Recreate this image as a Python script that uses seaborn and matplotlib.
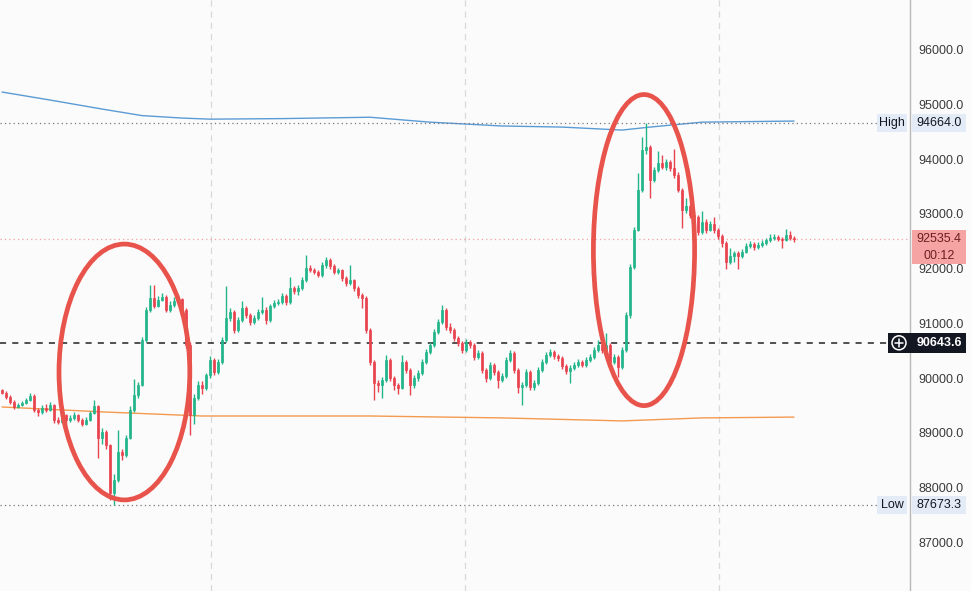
import numpy as np
import pandas as pd
import matplotlib
matplotlib.use("Agg")
import matplotlib.pyplot as plt
import matplotlib.transforms as mtransforms
from matplotlib.patches import Ellipse, Rectangle
from matplotlib.lines import Line2D
import seaborn as sns

# ---------------- data ----------------
first_open = 89780
closes = [
    89725, 89650, 89560, 89470, 89505, 89545, 89600, 89670, 89415, 89380,
    89450, 89415, 89505, 89230, 89195, 89325, 89230, 89270, 89325, 89230,
    89160, 89230, 89360, 89490, 88905, 89010, 88775, 87895, 88135, 88645,
    88590, 88905, 89415, 89690, 89870, 90695, 91245, 91465, 91315, 91425,
    91480, 91245, 91335, 91410, 91445, 91245, 90605, 89325, 89635, 89870,
    89815, 90055, 90330, 90110, 90295, 90695, 91095, 91205, 90880, 91060,
    91280, 91150, 91025, 91095, 91205, 91245, 91060, 91315, 91370, 91390,
    91500, 91390, 91645, 91590, 91645, 91790, 92010, 91975, 91940, 91885,
    92065, 92160, 92050, 91940, 91975, 91830, 91740, 91790, 91645, 91520,
    91465, 90880, 90295, 89910, 89870, 89965, 90330, 90000, 89870, 89815,
    90295, 90145, 89870, 90000, 90090, 90295, 90475, 90605, 90840, 91025,
    91245, 90935, 90880, 90730, 90640, 90510, 90660, 90605, 90385, 90455,
    90145, 90000, 90240, 90110, 89965, 90035, 90330, 90455, 90145, 89835,
    89870, 90110, 89835, 89910, 90145, 90295, 90420, 90475, 90400, 90365,
    90220, 90130, 90185, 90240, 90295, 90240, 90330, 90385, 90510, 90605,
    90510, 90605, 90295, 90385, 90200, 90510, 91150, 92030, 92705, 93440,
    94170, 94225, 93620, 93805, 93930, 93860, 93950, 93840, 93715, 93440,
    93075, 93145, 92980, 92945, 92670, 92855, 92705, 92815, 92705, 92595,
    92470, 92120, 92230, 92285, 92230, 92305, 92415, 92450, 92395, 92435,
    92470, 92525, 92560, 92580, 92545, 92525, 92615, 92560, 92535.4,
]
highs = [
    89800, 89760, 89680, 89590, 89540, 89580, 89640, 89730, 89700, 89450,
    89500, 89520, 89560, 89530, 89280, 89420, 89350, 89320, 89370, 89350,
    89260, 89280, 89400, 89600, 89510, 89090, 89040, 88800, 88250, 89050,
    88700, 88960, 89480, 89980, 89920, 90750, 91300, 91700, 91700, 91500,
    91560, 91510, 91400, 91480, 91520, 91470, 91280, 90650, 89700, 89950,
    89950, 90100, 90400, 90360, 90350, 90750, 91680, 91280, 91250, 91120,
    91400, 91320, 91180, 91150, 91260, 91480, 91290, 91360, 91420, 91440,
    91560, 91530, 91850, 91680, 91700, 91850, 92250, 92060, 92020, 91980,
    92120, 92210, 92200, 92080, 92020, 92000, 91860, 92060, 91820, 91680,
    91560, 91500, 90920, 90330, 89960, 90020, 90420, 90370, 90040, 89910,
    90420, 90330, 90180, 90060, 90150, 90350, 90530, 90660, 90900, 91080,
    91340, 91280, 91000, 90920, 90770, 90680, 90720, 90700, 90640, 90520,
    90490, 90180, 90300, 90280, 90140, 90090, 90380, 90510, 90490, 90180,
    89920, 90170, 90150, 89960, 90200, 90350, 90480, 90530, 90510, 90440,
    90400, 90260, 90240, 90290, 90340, 90330, 90380, 90440, 90560, 90700,
    90640, 90820, 90640, 90440, 90420, 90560, 91200, 92080, 92760, 93750,
    94410, 94664.0, 94260, 93860, 94160, 94080, 94000, 93990, 94180, 93760,
    93480, 93300, 93180, 93060, 92990, 93060, 92900, 92870, 92940, 92740,
    92630, 92500, 92380, 92330, 92320, 92360, 92470, 92500, 92480, 92480,
    92520, 92570, 92640, 92630, 92610, 92580, 92720, 92680, 92600,
]
lows = [
    89700, 89620, 89530, 89430, 89450, 89480, 89520, 89580, 89380, 89300,
    89340, 89380, 89390, 89170, 89150, 89170, 89100, 89200, 89240, 89200,
    89130, 89140, 89210, 89340, 88540, 88800, 88700, 87770, 87673.3, 88100,
    88500, 88560, 88880, 89380, 89640, 89850, 90650, 91200, 91280, 91290,
    91400, 91200, 91200, 91300, 91380, 91200, 90550, 88960, 89150, 89600,
    89700, 89780, 90000, 90050, 90080, 90250, 90650, 91050, 90820, 90850,
    91020, 91100, 90970, 90990, 91060, 91170, 90980, 91030, 91280, 91330,
    91360, 91340, 91360, 91540, 91520, 91610, 91760, 91930, 91900, 91840,
    91850, 92020, 92000, 91900, 91900, 91780, 91680, 91700, 91600, 91470,
    91280, 90820, 90240, 89600, 89750, 89640, 89930, 89940, 89780, 89700,
    89790, 90090, 89690, 89820, 89950, 90060, 90260, 90440, 90570, 90800,
    90990, 90880, 90830, 90680, 90580, 90460, 90480, 90550, 90330, 90350,
    90090, 89930, 89970, 90060, 89820, 89920, 90000, 90300, 90090, 89720,
    89500, 89840, 89780, 89780, 89880, 90110, 90260, 90380, 90350, 90320,
    90170, 90080, 89910, 90150, 90200, 90200, 90200, 90300, 90350, 90470,
    90460, 90480, 90240, 90260, 90020, 90170, 90480, 91100, 92000, 92680,
    93400, 94100, 93300, 93580, 93760, 93820, 93800, 93790, 93660, 93400,
    92740, 93020, 92930, 92880, 92620, 92640, 92650, 92680, 92660, 92540,
    92400, 92000, 92080, 92120, 92000, 92190, 92280, 92380, 92350, 92360,
    92400, 92430, 92490, 92520, 92500, 92380, 92500, 92520, 92480,
]

# moving averages (sampled points: candle index, value)
ma_slow_idx = [0, 12, 25, 35, 45, 52, 70, 92, 107, 125, 140, 155, 162, 175, 198]
ma_slow_val = [95231, 95085, 94920, 94800, 94755, 94735, 94745, 94770, 94680,
               94610, 94590, 94535, 94590, 94680, 94700]
ma_fast_idx = [0, 25, 50, 92, 125, 155, 175, 198]
ma_fast_val = [89470, 89380, 89305, 89305, 89270, 89215, 89270, 89285]

price_ticks = [87000, 88000, 89000, 90000, 91000, 92000, 93000, 94000, 95000, 96000]
high_price = 94664.0
low_price = 87673.3
last_price = 92535.4
last_time = "00:12"
ref_price = 90643.6
session_lines = [52.25, 115.75, 179.25]
highlight_centers = [(30.6, 90110), (160.5, 92340)]
highlight_sizes = [(32.7, 4680), (25.3, 5690)]

# ---------------- style ----------------
sns.set_theme(style="white")
plt.rcParams['font.family'] = ['Liberation Sans', 'DejaVu Sans']

W, H = 971, 591
BG = '#fbfbfb'
GREEN = '#22b48a'
RED = '#e8434f'

fig = plt.figure(figsize=(W / 100, H / 100), dpi=100, facecolor=BG)
ax = fig.add_axes([0, 0, 910 / W, 1])
ax.set_facecolor(BG)
ax.set_xlim(-0.5, 227)
ax.set_ylim(86103.7, 96914.6)

opens = [first_open] + closes[:-1]
df = pd.DataFrame({"idx": np.arange(len(closes)), "open": opens, "close": closes,
                   "high": highs, "low": lows})
up = df["close"] >= df["open"]
cols = np.where(up, GREEN, RED)
body = df["close"] - df["open"]
body = np.where(np.abs(body) < 20, np.where(body >= 0, 20, -20), body)

ax.vlines(df["idx"], df["low"], df["high"], colors=cols, linewidth=1.0, zorder=3)
ax.bar(df["idx"], body, bottom=df["open"], width=0.72, color=cols,
       edgecolor=cols, linewidth=0.5, zorder=4)

slow = pd.DataFrame({"idx": ma_slow_idx, "val": ma_slow_val})
fast = pd.DataFrame({"idx": ma_fast_idx, "val": ma_fast_val})
sns.lineplot(data=slow, x="idx", y="val", ax=ax, color='#5b9bd5', linewidth=1.0,
             legend=False, zorder=2)
sns.lineplot(data=fast, x="idx", y="val", ax=ax, color='#f39a4e', linewidth=1.0,
             legend=False, zorder=2)
ax.set_xlabel("")
ax.set_ylabel("")

# grid (session separators)
ax.set_xticks(session_lines)
ax.set_xticklabels([])
ax.tick_params(axis='x', length=0)
for xv in session_lines:
    ax.axvline(xv, color='#d9d9d9', linestyle=(0, (5, 4)), linewidth=0.9, zorder=1)

# price axis
ax.yaxis.tick_right()
ax.set_yticks(price_ticks)
ax.set_yticklabels([f"{v:.1f}" for v in price_ticks])
ax.tick_params(axis='y', length=0, pad=6, labelsize=9, labelcolor='#3a3a3a')
for s in ['top', 'left', 'bottom']:
    ax.spines[s].set_visible(False)
ax.spines['right'].set_color('#b8b8b8')
ax.spines['right'].set_linewidth(1.0)

# horizontal level lines
ax.axhline(high_price, 0, 877 / 910, color='#777777', linestyle=(0, (1, 2.5)), linewidth=0.9, zorder=2)
ax.axhline(low_price, 0, 877 / 910, color='#777777', linestyle=(0, (1, 2.5)), linewidth=0.9, zorder=2)
ax.axhline(last_price, 0, 1, color='#f2a0a0', linestyle=(0, (1, 2.5)), linewidth=0.9, zorder=2)
ax.axhline(ref_price, 0, 888 / 910, color='#222222', linestyle=(0, (4, 4)), linewidth=1.1, zorder=2)

# highlight ellipses
for (cx, cy), (w, h) in zip(highlight_centers, highlight_sizes):
    ax.add_patch(Ellipse((cx, cy), w, h, fill=False, edgecolor='#e8534b',
                         linewidth=3.4, zorder=6))

# right-side labels
bt = mtransforms.blended_transform_factory(fig.transFigure, ax.transData)
PX = 18.29  # price per pixel


def box(x0, x1, ycenter, hpx, color):
    r = Rectangle((x0 / W, ycenter - hpx / 2 * PX), (x1 - x0) / W, hpx * PX,
                  transform=bt, facecolor=color, edgecolor='none', clip_on=False, zorder=10)
    ax.add_patch(r)


def label(x, y, s, color, **kw):
    ax.text(x / W, y, s, transform=bt, ha='center', va='center', fontsize=9,
            color=color, clip_on=False, zorder=11, **kw)


box(912, 966, high_price, 18, '#e3ebf6')
box(877, 907, high_price, 18, '#e3ebf6')
label(939, high_price, f"{high_price:.1f}", '#131722')
label(892, high_price, "High", '#131722')

box(912, 966, low_price, 18, '#e3ebf6')
box(877, 907, low_price, 18, '#e3ebf6')
label(939, low_price, f"{low_price:.1f}", '#131722')
label(892, low_price, "Low", '#131722')

box(912, 966, last_price - 8 * PX, 34, '#f6a3a3')
label(939, last_price, f"{last_price:.1f}", '#6b1f1f')
label(939, last_price - 17 * PX, last_time, '#6b1f1f')

box(888, 966, ref_price, 20, '#131722')
label(939, ref_price, f"{ref_price:.1f}", 'white', fontweight='bold')
ax.add_patch(Ellipse((899 / W, ref_price), 14 / W, 14 * PX, transform=bt, fill=False,
                     edgecolor='white', linewidth=1.1, clip_on=False, zorder=12))
ax.add_line(Line2D([895 / W, 903 / W], [ref_price, ref_price], transform=bt, color='white',
                   linewidth=1.1, clip_on=False, zorder=12))
ax.add_line(Line2D([899 / W, 899 / W], [ref_price - 4 * PX, ref_price + 4 * PX], transform=bt,
                   color='white', linewidth=1.1, clip_on=False, zorder=12))

fig.savefig("out.png", dpi=100, facecolor=BG)
